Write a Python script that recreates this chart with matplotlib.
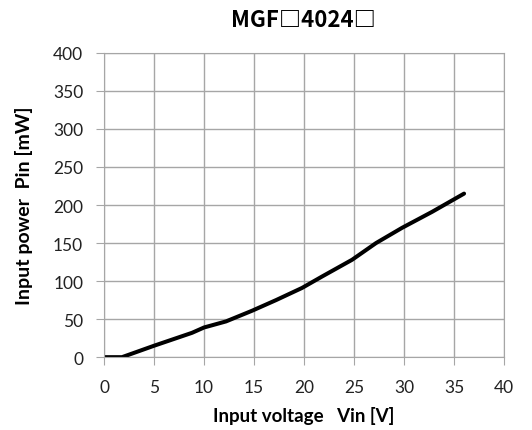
import matplotlib
matplotlib.use('Agg')
import matplotlib.pyplot as plt

# data
vin = [0, 1.8, 5, 8.8, 10, 12.2, 14.8, 17.2, 19.8, 21.8, 24.8, 27.2, 29.8, 32.8, 36]
pin = [0, 0, 15, 32, 39, 47, 61, 75, 91, 106, 128, 150, 170, 191, 215]

xticks = list(range(0, 41, 5))
yticks = list(range(0, 401, 50))

plt.rcParams['font.family'] = ['Lato', 'DejaVu Sans']

fig = plt.figure(figsize=(5.32, 4.31), dpi=100)
ax = fig.add_axes([0.1955, 0.169, 0.752, 0.706])

ax.plot(vin, pin, c='k', lw=2.9, solid_capstyle='round')

ax.set_xlim(0, 40)
ax.set_ylim(0, 400)
ax.set_xticks(xticks)
ax.set_yticks(yticks)
ax.grid(True, color='#a6a6a6', lw=1)
ax.set_axisbelow(True)
for s in ax.spines.values():
    s.set_color('#a6a6a6')
ax.tick_params(colors='#a6a6a6', labelcolor='#222222', labelsize=12.5, length=6)
ax.tick_params(axis='y', pad=9)
ax.tick_params(axis='x', pad=10)

ax.set_xlabel('Input voltage   Vin [V]', fontsize=13.5, fontweight='bold', labelpad=8)
ax.set_ylabel('Input power  Pin [mW]', fontsize=14, fontweight='bold', labelpad=14)
fig.text(0.57, 0.952, 'MGF\u25a14024\u25a1', ha='center', va='center',
         fontsize=16, fontweight='bold', family=['Noto Sans CJK JP', 'DejaVu Sans'])

fig.savefig('out.png')
